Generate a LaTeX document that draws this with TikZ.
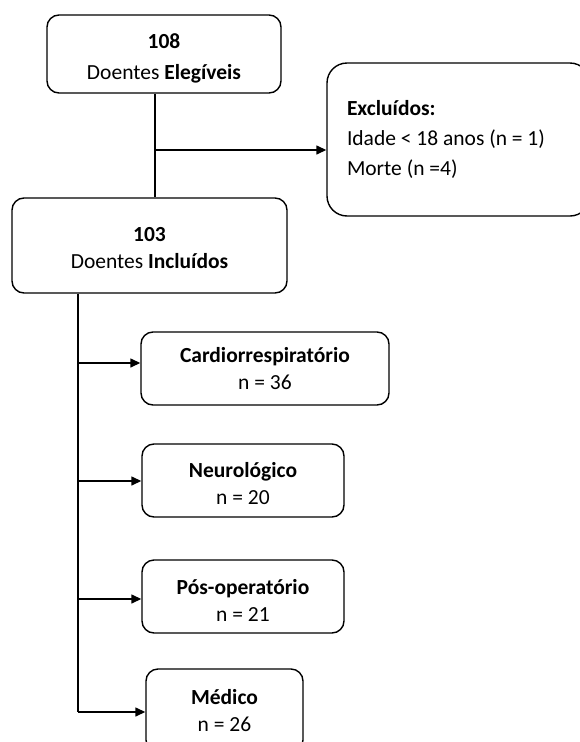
\documentclass[tikz,border=0pt]{standalone}
\usepackage{fontspec}
\setmainfont{Carlito}
\usetikzlibrary{arrows.meta}
\begin{document}
\begin{tikzpicture}[x=1pt,y=-1pt,
  box/.style={draw,line width=1.4pt,rounded corners=12pt,align=center,inner sep=0pt,font=\fontsize{21.5}{27}\selectfont},
  link/.style={line width=1.4pt},
  arr/.style={line width=1.4pt,-{Triangle[length=10pt,width=9pt]}}]
\useasboundingbox (0,0) rectangle (579,742);
\node[box,minimum width=234pt,minimum height=78pt,font=\fontsize{21.5}{31}\selectfont] (elig) at (164,54) {\rule{0pt}{24pt}\textbf{108}\\Doentes \textbf{Elegíveis}};
\node[box,rounded corners=20pt,minimum width=263pt,minimum height=153pt,align=flush left,text width=223pt,inner xsep=20pt,font=\fontsize{21.5}{30}\selectfont] (excl) at (458.5,139.5) {\textbf{Excluídos:}\\Idade < 18 anos (n = 1)\\Morte (n =4)};
\node[box,minimum width=275pt,minimum height=95pt] (incl) at (149.5,245.5) {\rule{0pt}{20pt}\textbf{103}\\Doentes \textbf{Incluídos}};
\node[box,minimum width=248pt,minimum height=73pt] (cardio) at (265,368.5) {\textbf{Cardiorrespiratório}\\n = 36};
\node[box,minimum width=202pt,minimum height=73pt] (neuro) at (243,480.5) {\rule{0pt}{22pt}\textbf{Neurológico}\\n = 20};
\node[box,minimum width=202pt,minimum height=73pt] (pos) at (243,596.5) {\rule{0pt}{22pt}\textbf{Pós-operatório}\\n = 21};
\node[box,minimum width=157pt,minimum height=83pt] (med) at (224.5,710.5) {\textbf{Médico}\\n = 26};
\coordinate (j) at (155,150);
\coordinate (tb) at (78,712);
\draw[link] (elig.south -| j) -- (incl.north -| j);
\draw[arr] (j) -- (excl.west |- j);
\draw[link] (incl.south -| tb) -- (tb);
\draw[arr] (tb) -- (med.west |- tb);
\coordinate (c1) at (78,363);
\coordinate (c2) at (78,481);
\coordinate (c3) at (78,599);
\draw[arr] (c1) -- (cardio.west |- c1);
\draw[arr] (c2) -- (neuro.west |- c2);
\draw[arr] (c3) -- (pos.west |- c3);
\end{tikzpicture}
\end{document}
